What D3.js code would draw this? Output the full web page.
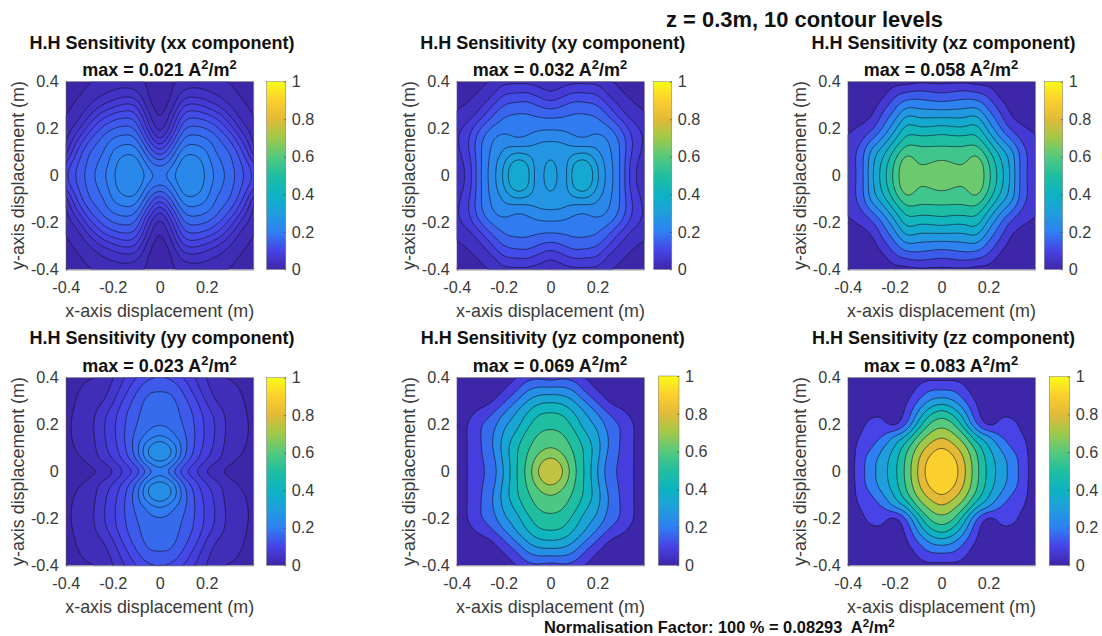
<!DOCTYPE html>
<html><head><meta charset="utf-8">
<style>html,body{margin:0;padding:0;background:#fff}svg{display:block}text{font-family:"Liberation Sans",Arial,sans-serif}</style>
<script src="https://cdn.jsdelivr.net/npm/d3@7"></script></head><body><svg id="c" width="1102" height="636"></svg>
<script>
// Contour height in contour-level units.
// Rows: y = 0, .05 … .4. Columns: x = 0, .05 … .4. The fields mirror about both axes.
const gridCoords=[0,.05,.1,.15,.2,.25,.3,.35,.4];
const xxField=[
[8.7,9.6,11.1,11.2,9.7,8.6,7.5,6.25,4.8],
[7.6,8.6,10.7,10.8,9.5,8.3,7.3,6.0,4.2],
[5.2,7.2,9.6,9.7,9.1,7.7,7.0,5.2,2.6],
[2.9,5.4,8.3,8.6,8.2,7.2,6.0,4.0,1.8],
[1.45,3.6,6.9,7.3,7.0,6.1,4.6,2.6,1.35],
[0.75,2.5,5.5,5.9,5.5,4.6,3.1,1.6,1.05],
[0.5,1.4,3.9,4.2,3.6,2.9,1.9,1.2,0.75],
[0.4,0.9,2.3,2.5,2.2,1.8,1.3,0.85,0.5],
[0.4,0.85,1.3,1.55,1.45,1.2,0.95,0.6,0.35]];
const xyField=[
[9.2,7.1,9.6,10.3,8.1,6.5,4.9,2.3,1.4],
[8.6,7.2,9.2,9.6,7.9,6.4,4.9,2.4,1.5],
[7.5,7.4,7.7,7.9,7.1,6.2,4.9,2.8,1.7],
[7.0,6.9,6.3,6.1,6.6,5.9,4.8,2.9,1.9],
[5.85,5.8,5.6,5.6,5.6,5.2,4.0,2.5,1.7],
[4.9,5.0,5.2,5.2,5.0,4.0,2.7,1.6,1.2],
[3.5,3.9,4.4,4.3,4.0,2.9,1.7,1.1,0.85],
[2.05,2.6,3.1,3.0,2.9,1.7,1.1,0.75,0.55],
[1.3,1.5,1.8,1.8,1.7,1.1,0.8,0.5,0.3]];
const xzField=[
[9.9,9.7,9.5,10.0,8.3,6.5,4.7,2.2,1.5],
[9.3,9.0,8.9,9.8,8.1,6.3,4.6,2.25,1.55],
[8.4,8.4,8.4,8.8,7.3,5.6,4.3,2.2,1.5],
[7.6,7.5,7.5,7.5,6.0,4.3,3.0,1.7,1.2],
[6.4,6.2,6.2,6.5,4.7,3.1,1.75,1.1,0.8],
[4.9,4.9,4.9,5.2,3.6,2.3,0.95,0.6,0.4],
[3.4,3.5,3.6,3.7,2.6,1.5,0.5,0.3,0.2],
[2.05,2.2,2.4,2.15,1.7,0.65,0.2,0.2,0.1],
[0.75,0.8,0.8,0.6,0.6,0.2,0.1,0.1,0.1]];
const yyField=[
[7.6,6.0,4.2,3.0,1.8,1.0,0.7,0.6,0.55],
[9.4,8.7,6.0,4.4,3.0,2.15,1.2,0.9,0.6],
[10.3,9.1,6.6,4.85,3.5,2.5,1.4,1.1,0.7],
[8.1,7.3,6.3,5.0,3.7,2.65,1.55,1.25,0.75],
[6.9,6.75,5.95,4.95,3.7,2.7,1.6,1.3,0.75],
[6.6,6.55,5.7,4.8,3.5,2.45,1.55,1.25,0.65],
[6.35,6.3,5.4,4.3,2.8,1.8,1.4,1.12,0.5],
[5.9,5.8,4.8,3.55,2.3,1.45,1.25,0.95,0.35],
[5.1,4.8,4.0,3.0,1.95,1.15,0.95,0.7,0.25]];
const yzField=[
[10.4,9.2,7.3,5.8,4.0,2.4,1.8,1.03,0.5],
[9.3,8.5,7.1,5.75,4.2,2.55,1.85,1.05,0.5],
[8.05,7.6,6.8,5.75,4.4,2.85,1.9,1.05,0.5],
[7.3,7.15,6.4,5.2,4.2,2.85,1.95,1.05,0.5],
[6.8,6.6,5.7,4.5,3.8,2.5,1.95,1.05,0.45],
[6.05,5.9,5.0,4.0,2.95,1.9,1.3,0.7,0.3],
[4.85,4.7,4.0,2.9,1.8,0.85,0.5,0.3,0.15],
[3.3,3.3,2.85,1.7,0.9,0.4,0.2,0.1,0.1],
[1.6,1.9,1.65,0.95,0.4,0.2,0.15,0.1,0.1]];
const zzField=[
[10.4,9.6,8.1,6.3,4.7,3.6,2.6,1.5,0.4],
[10,9.3,7.9,6.2,4.6,3.5,2.6,1.45,0.35],
[9.1,8.4,7.3,5.7,4.1,3.0,1.9,1.35,0.3],
[7.9,7.3,6.2,4.1,3.2,1.95,1.5,1.05,0.2],
[6.7,6.2,4.3,2.0,0.6,1.3,1.4,0.6,0.1],
[5.5,4.7,3.2,1.2,0.4,0.8,0.7,0.3,0.05],
[3.5,3.1,2.0,0.85,0.3,0.3,0.2,0.1,0.05],
[1.9,1.9,1.15,0.4,0.2,0.1,0.05,0.05,0.05],
[0.7,0.75,0.6,0.2,0.1,0.05,0.05,0.05,0.05]];
const fields=[xxField,xyField,xzField,yyField,yzField,zzField];
const components=["xx","xy","xz","yy","yz","zz"];
const maxLabels=["0.021","0.032","0.058","0.023","0.069","0.083"];
const normMax=[0.253,0.386,0.70,0.277,0.832,1.0];
const levelSets=[[1,2,3,4,5,6,7,8,9,10],[1,2,3,4,5,6,7,8,9],[1,2,3,4,5,6,7,8,9],[1,2,3,4,5,6,7,8,9],[1,2,3,4,5,6,7,8,9],[1,2,3,4,5,6,7,8,9]];
const levelSpan=[11,10,10,10,10,10];
const axisTicks=[-0.4,-0.2,0,0.2,0.4];
const xTickValues=[-0.4,-0.2,0,0.2];
const barTicks=[0,0.2,0.4,0.6,0.8,1];
const parulaStops=["#3e26a8","#4743e6","#2f7ff2","#1f9edc","#0db3c2","#20bea0","#55c97e","#a0c94a","#e2ba38","#fbcf2e","#f9fb15"];

// Layout
const rowsY=[[81.7,269.4],[377.7,565.3]];
const colsX=[[65.8,253.6],[456.7,644.3],[847.7,1035.3]];
const bars=[[266.6,285.8,81.7],[653.7,671.8,81.7],[1044.3,1062.7,81.7],[266.6,285.8,377.7],[658.3,679,376],[1049.3,1069.7,376.7]];
const titleCx=[162,552.8,943.5];
const maxCx=[159.5,550,941];

const svg=d3.select("#c");
const parula=d3.scaleLinear().domain(parulaStops.map((_,i)=>i/10)).range(parulaStops).interpolate(d3.interpolateRgb);
const defs=svg.append("defs");
const TICK=16.2, LABEL=17.9, TITLE=18, GREY="#3a3a3a";
const fmt=d=>d===0||d===1?String(d):d3.format(".1f")(d).replace("\u2212","-");
const FINE=6;

function expandField(q){
  const n=q[0].length;
  const rowFull=r=>[...r.slice(1).reverse(),...r];
  const rows=q.map(rowFull);
  const full=[...rows.slice(1).reverse(),...rows];
  const m=2*n-1, size=m+2, pad=[];
  // one extra cell around the frame so contours leave the plot cleanly (clipped there)
  for(let j=-1;j<=m;j++){const row=[];for(let i=-1;i<=m;i++){
    const ci=Math.max(0,Math.min(m-1,i)),cj=Math.max(0,Math.min(m-1,j));
    const ii=i<0?1:i>=m?m-2:ci,jj=j<0?1:j>=m?m-2:cj;
    let v=full[cj][ci];
    if(i!==ci)v+=v-full[cj][ii];
    if(j!==cj)v+=v-full[jj][ci];
    row.push(Math.max(0,v));
  }pad.push(row);}
  // smooth resampling of the read grid for drawing
  const cr=(a,b,c,d,t)=>0.5*((2*b)+(-a+c)*t+(2*a-5*b+4*c-d)*t*t+(-a+3*b-3*c+d)*t*t*t);
  const at=(i,j)=>pad[Math.max(0,Math.min(size-1,j))][Math.max(0,Math.min(size-1,i))];
  const S=(size-1)*FINE+1, out=new Float64Array(S*S);
  for(let b=0;b<S;b++){const v=b/FINE,j=Math.min(size-2,Math.floor(v)),tv=v-j;
    for(let a=0;a<S;a++){const u=a/FINE,i=Math.min(size-2,Math.floor(u)),tu=u-i;
      const col=k=>cr(at(i-1,k),at(i,k),at(i+1,k),at(i+2,k),tu);
      out[b*S+a]=cr(col(j-1),col(j),col(j+1),col(j+2),tv);
    }}
  d3.blur2({data:out,width:S,height:S},1.5);
  return {values:Array.from(out),size:S};
}

fields.forEach((q,idx)=>{
  const c=idx%3,r=Math.floor(idx/3);
  const [x0,x1]=colsX[c],[y0,y1]=rowsY[r];
  const x=d3.scaleLinear().domain([-0.4,0.4]).range([x0,x1]);
  const y=d3.scaleLinear().domain([-0.4,0.4]).range([y1,y0]);
  const g=svg.append("g");
  const clipId="clip"+idx;
  defs.append("clipPath").attr("id",clipId).append("rect").attr("x",x0).attr("y",y0).attr("width",x1-x0).attr("height",y1-y0);
  const plot=g.append("g").attr("clip-path",`url(#${clipId})`);
  const colourOf=l=>parula(l/levelSpan[idx]*normMax[idx]);
  plot.append("rect").attr("x",x0).attr("y",y0).attr("width",x1-x0).attr("height",y1-y0).attr("fill",colourOf(0));

  const {values,size}=expandField(q);
  const step=gridCoords[1];
  const toData=v=>-0.45+((v-0.5)/FINE)*step;
  const line=d3.line().curve(d3.curveCatmullRomClosed.alpha(0.5));
  const contours=d3.contours().size([size,size]).smooth(true).thresholds(levelSets[idx])(values);
  contours.forEach(ct=>{
    const p=ct.coordinates.map(poly=>poly.map(ring=>line(ring.slice(0,-1).map(([a,b])=>[x(toData(a)),y(toData(b))]))).join("")).join("");
    if(!p)return;
    plot.append("path").attr("d",p).attr("fill",colourOf(ct.value)).attr("fill-rule","evenodd")
      .attr("stroke","#101020").attr("stroke-opacity",.8).attr("stroke-width",.75);
  });

  const axB=g.append("g").attr("transform",`translate(0,${y1})`).call(d3.axisBottom(x).tickValues(xTickValues).tickFormat(fmt).tickSizeInner(-2).tickSizeOuter(0).tickPadding(12.5));
  const axL=g.append("g").attr("transform",`translate(${x0},0)`).call(d3.axisLeft(y).tickValues(axisTicks).tickFormat(fmt).tickSizeInner(-2).tickSizeOuter(0).tickPadding(7));
  [axB,axL].forEach(a=>{a.selectAll("text").attr("font-size",TICK).attr("fill",GREY).attr("font-family",'"Liberation Sans"');
    a.selectAll("line").attr("stroke",GREY).attr("stroke-width",.6);a.select(".domain").attr("stroke","#4a4a60").attr("stroke-width",.7);});
  g.append("path").attr("d",`M${x0},${y0}H${x1}V${y1}`).attr("fill","none").attr("stroke","#4a4a60").attr("stroke-width",.7);

  // axis labels
  g.append("text").attr("x",(x0+x1)/2).attr("y",y1+47.5).attr("text-anchor","middle").attr("font-size",LABEL).attr("fill",GREY).text("x-axis displacement (m)");
  g.append("text").attr("transform",`translate(${x0-42},${(y0+y1)/2}) rotate(-90)`).attr("text-anchor","middle").attr("font-size",LABEL).attr("fill",GREY).text("y-axis displacement (m)");

  // titles
  const tY=y0-(r?33.7:32.4);
  g.append("text").attr("x",titleCx[c]).attr("y",tY).attr("text-anchor","middle").attr("font-size",TITLE).attr("font-weight","bold").attr("fill","#111").text(`H.H Sensitivity (${components[idx]} component)`);
  const t2=g.append("text").attr("x",maxCx[c]).attr("y",y0-5.8).attr("text-anchor","middle").attr("font-size",TITLE).attr("font-weight","bold").attr("fill","#111");
  t2.append("tspan").text(`max = ${maxLabels[idx]} A`);
  t2.append("tspan").attr("dy",-7).attr("font-size",13).text("2");
  t2.append("tspan").attr("dy",7).text("/m");
  t2.append("tspan").attr("dy",-7).attr("font-size",13).text("2");

  // colour bar
  const [bx0,bx1,by0]=bars[idx];
  const by=d3.scaleLinear().domain([0,1]).range([y1,by0]);
  const gid="grad"+idx;
  const grad=defs.append("linearGradient").attr("id",gid).attr("x1",0).attr("x2",0).attr("y1",1).attr("y2",0);
  parulaStops.forEach((s,i)=>grad.append("stop").attr("offset",i/10).attr("stop-color",s));
  g.append("rect").attr("x",bx0).attr("y",by0).attr("width",bx1-bx0).attr("height",y1-by0).attr("fill",`url(#${gid})`).attr("stroke","#777").attr("stroke-width",.5);
  const axC=g.append("g").attr("transform",`translate(${bx1},0)`).call(d3.axisRight(by).tickValues(barTicks).tickFormat(fmt).tickSizeInner(-2).tickSizeOuter(0).tickPadding(6));
  axC.selectAll("text").attr("font-size",TICK).attr("fill",GREY).attr("font-family",'"Liberation Sans"');
  axC.selectAll("line").attr("stroke",GREY).attr("stroke-width",.6);
  axC.select(".domain").attr("stroke","none");
});

svg.append("text").attr("x",804.5).attr("y",26.5).attr("text-anchor","middle").attr("font-size",21.9).attr("font-weight","bold").attr("fill","#111").text("z = 0.3m, 10 contour levels");
const foot=svg.append("text").attr("x",544).attr("y",633).attr("font-size",16.4).attr("font-weight","bold").attr("fill","#111").attr("xml:space","preserve");
foot.append("tspan").text("Normalisation Factor: 100 % = 0.08293  A");
foot.append("tspan").attr("dy",-6).attr("font-size",11.5).text("2");
foot.append("tspan").attr("dy",6).text("/m");
foot.append("tspan").attr("dy",-6).attr("font-size",11.5).text("2");
</script></body></html>
